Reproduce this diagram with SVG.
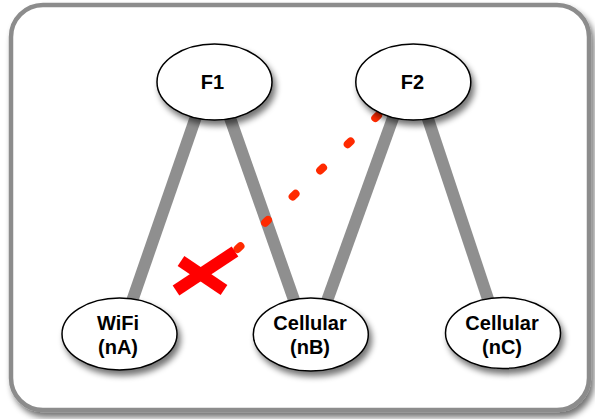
<svg xmlns="http://www.w3.org/2000/svg" width="595" height="419" viewBox="0 0 595 419">
  <defs>
    <filter id="sh" x="-20%" y="-20%" width="150%" height="160%">
      <feGaussianBlur in="SourceAlpha" stdDeviation="3"/>
      <feOffset dx="3" dy="5" result="b"/>
      <feComponentTransfer><feFuncA type="linear" slope="0.55"/></feComponentTransfer>
      <feMerge><feMergeNode/><feMergeNode in="SourceGraphic"/></feMerge>
    </filter>
    <style>
      .frame { fill: #ffffff; stroke: #8c8c8c; stroke-width: 4.5; }
      .edge { stroke: #8f8f8f; stroke-width: 12; stroke-linecap: butt; fill: none; }
      .fail { stroke: #ff2a00; stroke-width: 8; stroke-linecap: round; stroke-dasharray: 4 34; fill: none; }
      .cross { stroke: #ff0000; stroke-width: 12; stroke-linecap: butt; fill: none; }
      .node ellipse { fill: #ffffff; stroke: #000000; stroke-width: 1.5; }
      .node text { font-family: "Liberation Sans", Arial, sans-serif; font-weight: bold; font-size: 20px; fill: #000000; text-anchor: middle; }
    </style>
  </defs>

  <rect class="frame" x="11" y="5" width="578" height="405" rx="32" ry="32" filter="url(#sh)"/>

  <g id="connectors">
    <line class="edge" x1="207" y1="85" x2="122" y2="330"/>
    <line class="edge" x1="218.4" y1="85" x2="304.6" y2="330"/>
    <line class="edge" x1="404.9" y1="85" x2="316.5" y2="330"/>
    <line class="edge" x1="416.7" y1="85" x2="498.3" y2="330"/>
    <line class="fail" x1="405.7" y1="89.1" x2="237.5" y2="249"/>
    <g id="cross">
      <line class="cross" x1="181" y1="261" x2="224" y2="290"/>
      <line class="cross" x1="235" y1="251.5" x2="176" y2="290.5"/>
    </g>
  </g>

  <g id="F1" class="node">
    <ellipse cx="214.5" cy="82" rx="57.5" ry="38" filter="url(#sh)"/>
    <text x="212.5" y="88.5">F1</text>
  </g>
  <g id="F2" class="node">
    <ellipse cx="413.3" cy="82" rx="57.5" ry="38" filter="url(#sh)"/>
    <text x="412.5" y="88.5">F2</text>
  </g>
  <g id="nA" class="node">
    <ellipse cx="119.5" cy="334" rx="57.5" ry="36" filter="url(#sh)"/>
    <text x="118" y="330">WiFi</text>
    <text x="118" y="354">(nA)</text>
  </g>
  <g id="nB" class="node">
    <ellipse cx="310.8" cy="334.5" rx="57.5" ry="36.5" filter="url(#sh)"/>
    <text x="310" y="330">Cellular</text>
    <text x="310" y="354">(nB)</text>
  </g>
  <g id="nC" class="node">
    <ellipse cx="503" cy="333" rx="57.5" ry="35.5" filter="url(#sh)"/>
    <text x="502" y="330">Cellular</text>
    <text x="502" y="354">(nC)</text>
  </g>
</svg>
